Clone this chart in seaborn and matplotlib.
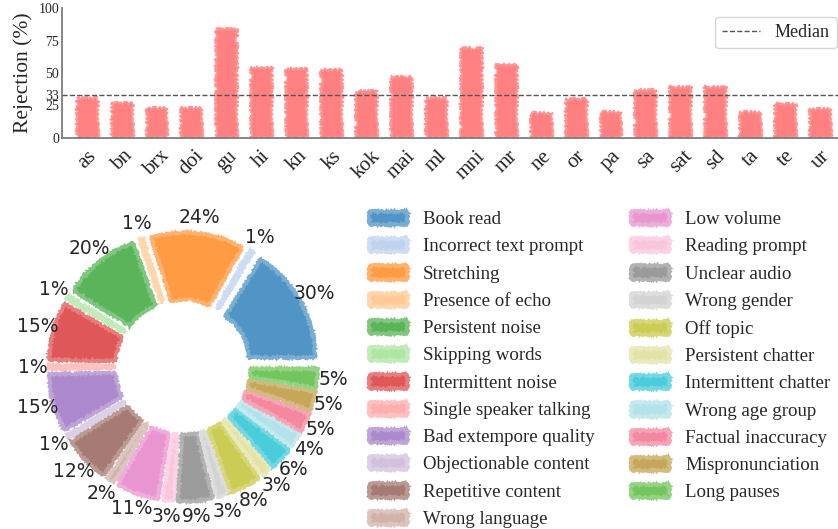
import numpy as np
import matplotlib
matplotlib.use("Agg")
import matplotlib.pyplot as plt
import matplotlib.colors as mcolors
import seaborn as sns

# ---- data -------------------------------------------------------------
languages = ["as", "bn", "brx", "doi", "gu", "hi", "kn", "ks", "kok", "mai", "ml",
             "mni", "mr", "ne", "or", "pa", "sa", "sat", "sd", "ta", "te", "ur"]
rejection = [31, 27, 23, 23, 84, 54, 53, 52, 36, 47, 31,
             69, 56, 19, 30, 20, 37, 39, 39, 20, 26, 22]
median_value = 33
ytick_values = [0, 25, 33, 50, 75, 100]

reasons = ["Book read", "Incorrect text prompt", "Stretching", "Presence of echo",
           "Persistent noise", "Skipping words", "Intermittent noise",
           "Single speaker talking", "Bad extempore quality", "Objectionable content",
           "Repetitive content", "Wrong language", "Low volume", "Reading prompt",
           "Unclear audio", "Wrong gender", "Off topic", "Persistent chatter",
           "Intermittent chatter", "Wrong age group", "Factual inaccuracy",
           "Mispronunciation", "Long pauses"]
reason_pct = [30, 1, 24, 1, 20, 1, 15, 1, 15, 1, 12, 2, 11, 3, 9, 3, 8, 3, 6, 4, 5, 5, 5]
extra_colors = ["#f26787", "#b68e2a", "#4bb630"]


def fade(c, a):
    # colour c seen at opacity a over white
    r = np.array(mcolors.to_rgb(c))
    return tuple(a * r + (1 - a) * 1.0)


# ---- style ------------------------------------------------------------
sns.set_theme(style="white")
plt.rcParams["font.family"] = ["Liberation Serif", "DejaVu Serif"]

fig = plt.figure(figsize=(8.38, 5.29), dpi=100)

# ---- top: rejection per language ---------------------------------------
bar_col = fade("red", 0.5)
ax = fig.add_axes([62 / 838, 0.7397, 1 - 62 / 838, 0.2446])
sns.barplot(x=languages, y=rejection, color=bar_col, saturation=1, width=0.6, ax=ax)
for bar in ax.patches:
    bar.set_edgecolor(fade("red", 0.42))
    bar.set_linewidth(1.2)
    bar.set_sketch_params(scale=1.5, length=2, randomness=3)

ax.axhline(median_value, ls="--", lw=1, color="#555555", label="Median")
ax.set_xlim(-0.72, 21.5)
ax.set_ylim(0, 100)
ax.set_yticks(ytick_values)
ax.set_yticklabels([str(v) for v in ytick_values], fontsize=10)
ax.set_ylabel("Rejection (%)", fontsize=15.5)
ax.set_xlabel("")
ax.tick_params(axis="x", labelsize=15, rotation=45, length=3, color="#555555")
ax.tick_params(axis="y", length=0, pad=2)
for s in ["top", "right"]:
    ax.spines[s].set_visible(False)
for s in ["left", "bottom"]:
    ax.spines[s].set_color("#777777")
ax.legend(loc="upper right", fontsize=13, frameon=True, handlelength=2.1,
          borderaxespad=0, bbox_to_anchor=(0.9987, 0.933))

# ---- bottom: donut of rejection reasons --------------------------------
colors = list(sns.color_palette("tab20", 20).as_hex()) + extra_colors
face_cols = [fade(c, 0.78) for c in colors]
pct_labels = [f"{v}%" for v in reason_pct]

axp = fig.add_axes([23 / 838, 2 / 529, 320 / 838, 320 / 529])
wedges, texts = axp.pie(reason_pct, colors=face_cols, labels=pct_labels,
                        labeldistance=1.14, startangle=0, counterclock=True,
                        explode=[0.17] * len(reason_pct),
                        wedgeprops=dict(width=0.58, linewidth=2.2),
                        textprops=dict(family=["DejaVu Sans"], fontsize=13.5))
for w, c in zip(wedges, colors):
    w.set_edgecolor(fade(c, 0.6))
    w.set_sketch_params(scale=1, length=3, randomness=3)
for t in texts:
    t.set_ha("center")
lim = 160 / 115
axp.set_xlim(-lim, lim)
axp.set_ylim(-lim, lim)
axp.set_aspect("equal")
axp.axis("off")

fig.legend(wedges, reasons, ncol=2, loc="upper left",
           bbox_to_anchor=(352 / 838, 1 - 194 / 529), frameon=False,
           fontsize=13.6, handlelength=2.0, handleheight=0.7, handletextpad=0.85,
           labelspacing=0.53, columnspacing=1.95)

fig.savefig("out.png", dpi=100)
